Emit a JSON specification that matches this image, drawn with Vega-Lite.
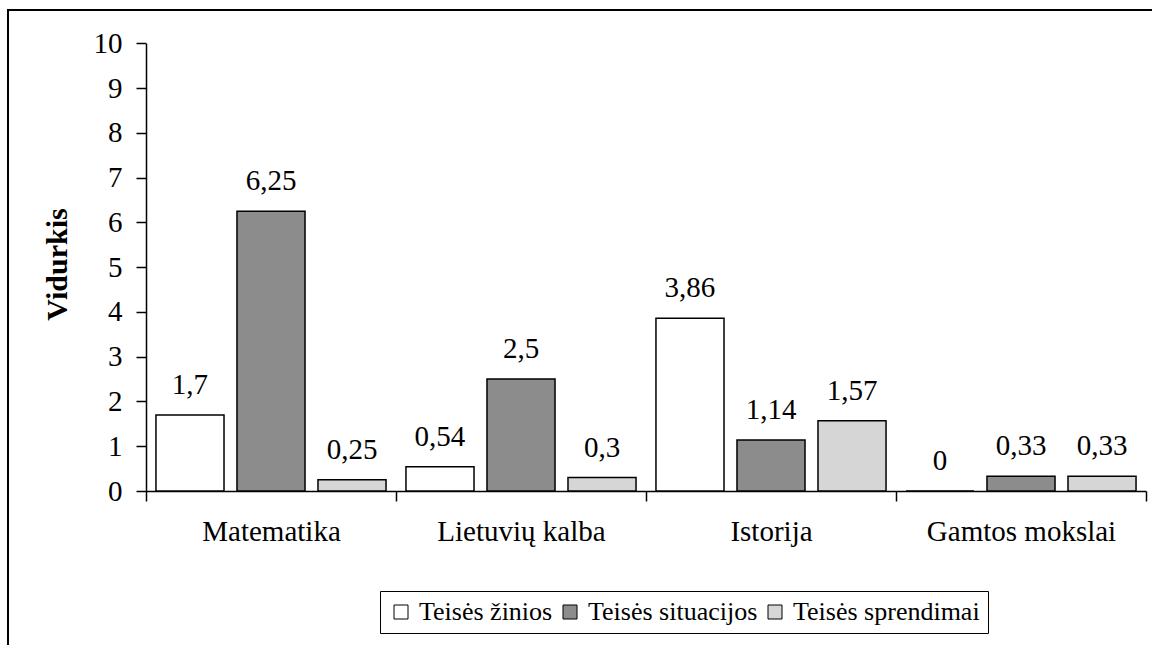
{
  "$schema": "https://vega.github.io/schema/vega-lite/v6.json",
  "width": 1144,
  "height": 635,
  "autosize": {"type": "none"},
  "padding": {"left": 8, "top": 10, "right": 0, "bottom": 0},
  "background": "white",
  "config": {
    "view": {"stroke": "black", "strokeWidth": 2, "strokeDash": [1144, 1779, 635, 2]},
    "font": "Liberation Serif",
    "locale": {"number": {"decimal": ",", "thousands": " ", "grouping": [3], "currency": ["", " €"]}},
    "axis": {
      "domainColor": "black",
      "domainWidth": 1.5,
      "tickColor": "black",
      "tickWidth": 1.5,
      "tickSize": 10,
      "labelColor": "black",
      "labelFont": "Liberation Serif",
      "labelFontSize": 29,
      "labelLimit": 0,
      "titleColor": "black",
      "titleFont": "Liberation Serif",
      "grid": false
    },
    "legend": {
      "labelFont": "Liberation Serif",
      "labelFontSize": 26,
      "labelColor": "black",
      "labelLimit": 0
    }
  },
  "data": {
    "values": [
      {"dalykas": "Matematika", "grupe": "Teisės žinios", "v": 1.7},
      {"dalykas": "Matematika", "grupe": "Teisės situacijos", "v": 6.25},
      {"dalykas": "Matematika", "grupe": "Teisės sprendimai", "v": 0.25},
      {"dalykas": "Lietuvių kalba", "grupe": "Teisės žinios", "v": 0.54},
      {"dalykas": "Lietuvių kalba", "grupe": "Teisės situacijos", "v": 2.5},
      {"dalykas": "Lietuvių kalba", "grupe": "Teisės sprendimai", "v": 0.3},
      {"dalykas": "Istorija", "grupe": "Teisės žinios", "v": 3.86},
      {"dalykas": "Istorija", "grupe": "Teisės situacijos", "v": 1.14},
      {"dalykas": "Istorija", "grupe": "Teisės sprendimai", "v": 1.57},
      {"dalykas": "Gamtos mokslai", "grupe": "Teisės žinios", "v": 0},
      {"dalykas": "Gamtos mokslai", "grupe": "Teisės situacijos", "v": 0.33},
      {"dalykas": "Gamtos mokslai", "grupe": "Teisės sprendimai", "v": 0.33}
    ]
  },
  "encoding": {
    "x": {
      "field": "dalykas",
      "type": "nominal",
      "sort": ["Matematika", "Lietuvių kalba", "Istorija", "Gamtos mokslai"],
      "scale": {"range": [138, 1138], "paddingInner": 0, "paddingOuter": 0},
      "axis": {
        "title": null,
        "orient": "bottom",
        "offset": -154,
        "labelAngle": 0,
        "tickBand": "extent",
        "labelPadding": 16
      }
    },
    "xOffset": {
      "field": "grupe",
      "type": "nominal",
      "scale": {
        "domain": ["Teisės žinios", "Teisės situacijos", "Teisės sprendimai"],
        "paddingInner": 0.16,
        "paddingOuter": 0.123
      }
    },
    "y": {
      "field": "v",
      "type": "quantitative",
      "scale": {"domain": [0, 10], "range": [481, 33.3], "nice": false, "zero": true},
      "axis": {
        "orient": "left",
        "offset": -138,
        "values": [0, 1, 2, 3, 4, 5, 6, 7, 8, 9, 10],
        "format": "d",
        "labelPadding": 14,
        "title": "Vidurkis",
        "titleFontWeight": "bold",
        "titleFontSize": 30,
        "titleAngle": -90,
        "titleX": -89,
        "titleY": 254,
        "titleAlign": "center",
        "titleBaseline": "middle"
      }
    }
  },
  "layer": [
    {
      "mark": {"type": "bar", "stroke": "black", "strokeWidth": 1.5},
      "encoding": {
        "fill": {
          "field": "grupe",
          "type": "nominal",
          "scale": {
            "domain": ["Teisės žinios", "Teisės situacijos", "Teisės sprendimai"],
            "range": ["#ffffff", "#8c8c8c", "#d6d6d6"]
          },
          "legend": {
            "title": null,
            "orient": "none",
            "direction": "horizontal",
            "legendX": 372,
            "legendY": 581,
            "strokeColor": "black",
            "fillColor": "white",
            "padding": 8,
            "symbolType": "square",
            "symbolSize": 196,
            "symbolStrokeColor": "black",
            "symbolStrokeWidth": 1,
            "symbolOpacity": 1,
            "columnPadding": 4,
            "labelOffset": 5
          }
        }
      }
    },
    {
      "mark": {"type": "text", "baseline": "alphabetic", "dy": -21, "fontSize": 29, "font": "Liberation Serif", "color": "black"},
      "encoding": {
        "text": {"field": "v", "type": "quantitative", "format": "~g"}
      }
    }
  ]
}
